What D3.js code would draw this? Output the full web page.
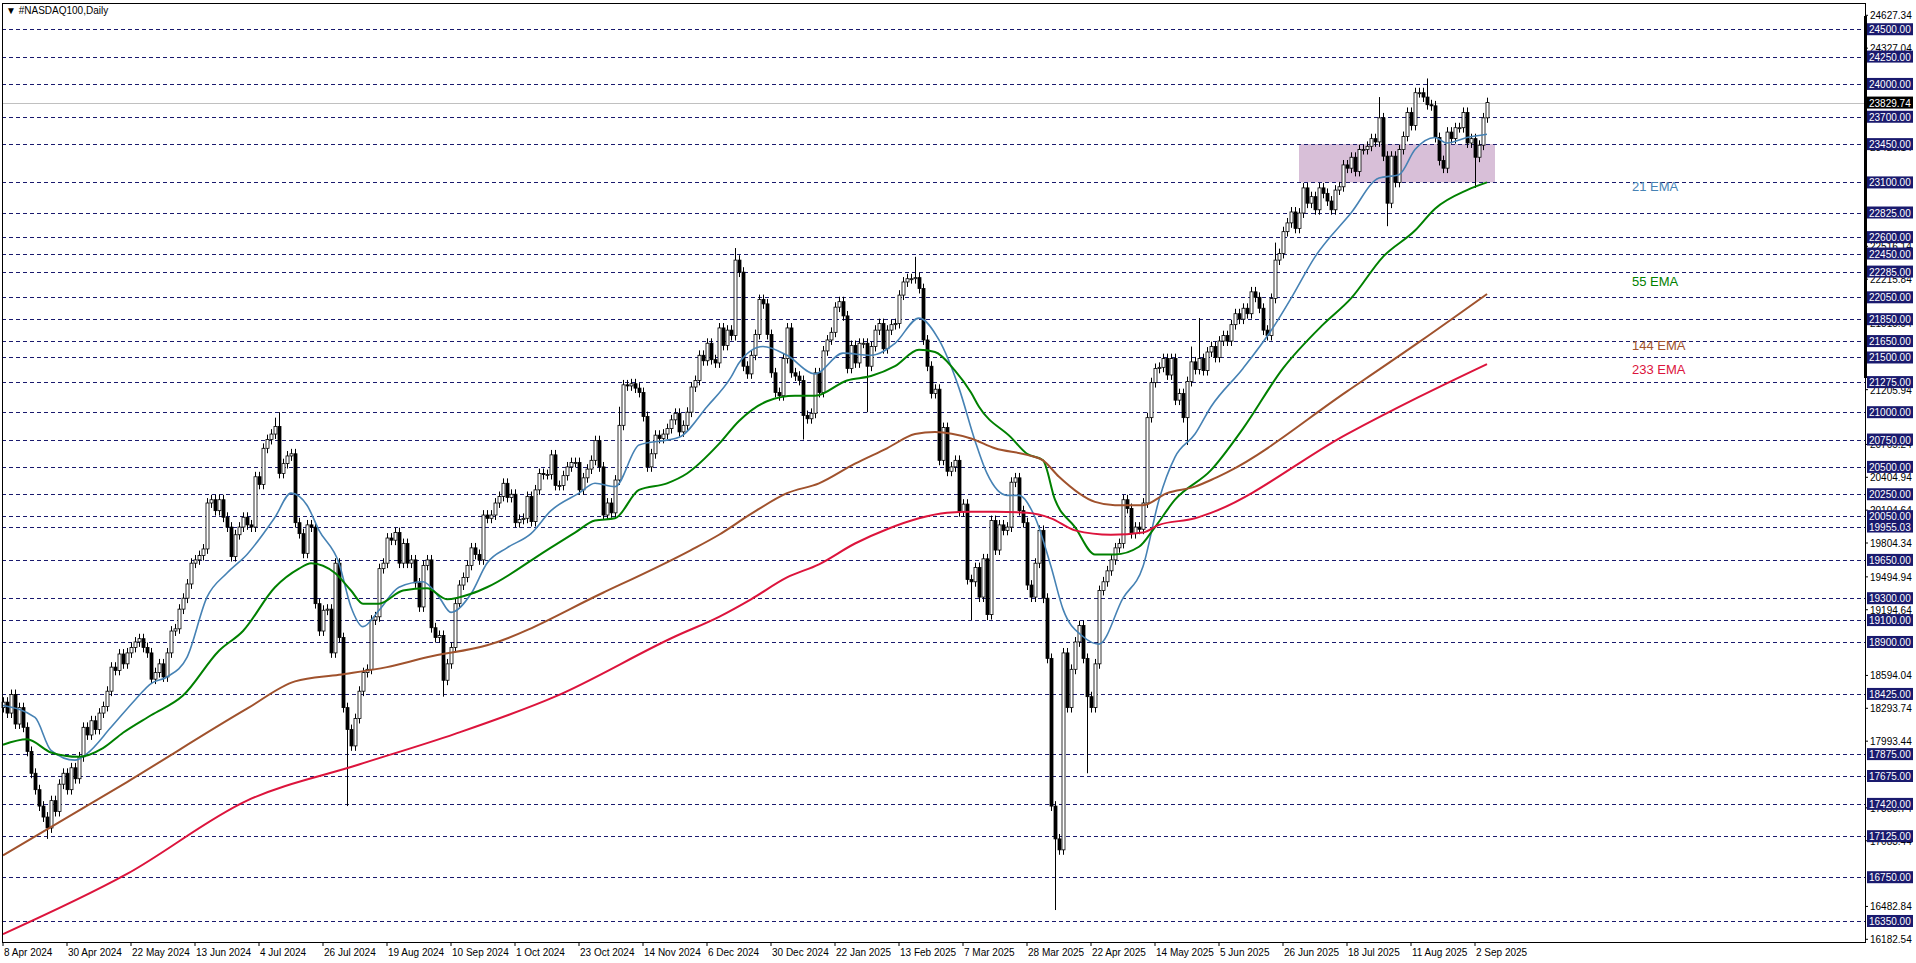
<!DOCTYPE html>
<html><head><meta charset="utf-8">
<script src="https://cdn.jsdelivr.net/npm/d3@7"></script>
<style>body{margin:0;background:#fff;overflow:hidden}svg{display:block}text{font-family:"Liberation Sans",Arial,sans-serif}</style>
</head><body>
<svg id="c" width="1916" height="963"></svg>
<script>
const firstOpen = 18300;
const closes = [
18350,18250,18420,18150,18300,18120,17900,17700,17550,17400,
17300,17200,17450,17350,17600,17700,17550,17750,17650,17850,
18120,18050,18180,18100,18250,18310,18450,18670,18640,18790,
18700,18800,18850,18900,18930,18850,18800,18560,18620,18700,
18580,18800,19000,19020,19200,19300,19430,19620,19650,19690,
19750,20170,20200,20100,20200,20040,19950,19680,19880,19950,
20040,19970,19950,20410,20340,20670,20750,20800,20870,20440,
20530,20600,20620,19990,19890,19710,19970,19950,19250,19000,
19190,19200,18800,19620,18940,18300,18100,17950,18200,18450,
18620,18650,19100,19130,19570,19620,19850,19830,19900,19620,
19800,19620,19650,19440,19220,19600,19650,19030,18940,18960,
18550,18700,18850,19250,19420,19490,19600,19760,19700,19650,
20060,20030,20060,20170,20230,20350,20220,20250,19990,20020,
20030,20230,20000,20290,20440,20430,20430,20610,20330,20330,
20420,20500,20540,20540,20290,20400,20480,20560,20740,20500,
20060,20170,20080,20380,20880,21250,21240,21260,21220,21180,
20960,20500,20620,20790,20760,20800,20850,20930,20990,20820,
20880,21000,21230,21290,21520,21470,21630,21480,21450,21770,
21610,21750,21700,22390,22280,21420,21350,21520,21710,22030,
21990,21710,21360,21180,21150,21490,21770,21360,21330,21290,
20970,20940,20990,21360,21180,21560,21660,21730,21960,22010,
21880,21400,21610,21450,21630,21630,21420,21600,21750,21810,
21580,21750,21800,21810,22070,22190,22220,22220,22230,22130,
21660,21420,21170,21210,20560,20860,20460,20500,20560,20090,
20160,19470,19450,19580,19310,19660,19150,20010,19740,19970,
19920,19950,20360,20400,20100,19990,19420,19310,19620,19920,
19300,18750,17400,17100,17000,18800,18300,18650,18900,19050,
18750,18400,18300,18700,19370,19450,19550,19650,19760,19800,
20200,20120,19890,19950,19930,20170,20950,21270,21400,21410,
21490,21340,21490,21110,21170,20950,21280,21460,21390,21490,
21380,21550,21600,21500,21650,21700,21650,21800,21900,21850,
21950,21900,22100,22050,21950,21750,21700,22040,22390,22450,
22650,22730,22830,22680,22820,23050,22910,22970,22850,23050,
23000,22930,22850,23030,23060,23260,23230,23330,23200,23400,
23400,23430,23500,23470,23690,23340,22910,23340,23100,23400,
23520,23740,23620,23920,23920,23880,23810,23800,23510,23300,
23230,23560,23500,23600,23600,23740,23460,23500,23330,23440,
23690,23829.74];
const highMarks = [[69,21000],[68,20950],[183,22500],[228,22420],[356,24050],[299,21860],[318,22550],[344,23880],[154,21050],[297,21600]];
const lowMarks = [[11,17100],[86,17400],[110,18400],[242,19100],[263,16450],[271,17700],[246,19100],[346,22700],[368,23050],[296,20700],[200,20750],[216,21000]];
const ema21 = [[0,18320],[8,18210],[12,17910],[18,17820],[21,17880],[27,18120],[33,18370],[37,18520],[41,18580],[46,18760],[51,19310],[56,19530],[61,19700],[68,20040],[72,20260],[76,20150],[79,19920],[84,19620],[87,19220],[90,19040],[94,19190],[99,19400],[105,19450],[109,19310],[112,19170],[117,19340],[121,19620],[126,19760],[132,19890],[137,20100],[144,20260],[148,20350],[153,20320],[159,20700],[169,20770],[176,21050],[182,21320],[184,21450],[190,21600],[196,21520],[203,21350],[210,21540],[217,21520],[223,21630],[229,21860],[234,21660],[239,21220],[243,20740],[246,20440],[251,20240],[254,20240],[258,20040],[262,19590],[265,19200],[270,18950],[274,18880],[280,19300],[285,19590],[289,20200],[293,20590],[298,20800],[302,21050],[310,21400],[318,21800],[322,22040],[328,22420],[337,22820],[344,23140],[349,23170],[353,23400],[358,23510],[361,23460],[366,23510],[371,23540]];
const ema55 = [[0,17960],[6,18010],[12,17890],[19,17850],[25,17930],[30,18070],[37,18230],[45,18410],[54,18820],[60,19000],[68,19400],[74,19570],[77,19620],[83,19530],[87,19370],[90,19250],[94,19250],[100,19370],[106,19390],[111,19290],[117,19340],[121,19400],[136,19740],[143,19900],[148,20010],[153,20030],[159,20290],[166,20350],[171,20440],[179,20710],[184,20920],[191,21100],[198,21150],[203,21150],[211,21290],[217,21330],[223,21420],[229,21570],[233,21550],[238,21380],[242,21180],[244,21050],[252,20770],[256,20620],[260,20560],[263,20200],[268,19950],[273,19700],[278,19700],[284,19770],[288,19950],[293,20200],[302,20470],[310,20850],[320,21400],[330,21800],[337,22040],[345,22420],[353,22660],[358,22860],[366,23030],[371,23100]];
const ema144 = [[0,16950],[31,17620],[61,18290],[73,18540],[84,18600],[96,18670],[106,18760],[121,18870],[150,19350],[172,19740],[179,19880],[187,20070],[196,20260],[204,20350],[213,20530],[221,20670],[228,20800],[233,20820],[242,20760],[248,20670],[256,20610],[260,20560],[264,20410],[273,20180],[278,20150],[285,20150],[291,20260],[298,20320],[302,20380],[306,20450],[336,21190],[354,21640],[371,22080]];
const ema233 = [[0,16230],[31,16780],[61,17450],[89,17780],[113,18060],[138,18400],[168,18950],[179,19130],[187,19290],[196,19490],[204,19610],[213,19800],[221,19930],[229,20030],[236,20080],[242,20090],[248,20090],[256,20080],[262,20030],[268,19920],[277,19880],[285,19900],[289,19970],[298,20030],[302,20080],[336,20800],[354,21140],[371,21440]];
const levels = [24500,24250,24000,23700,23450,23100,22825,22600,22450,22285,22050,21850,21650,21500,21275,21000,20750,20500,20250,20050,19955.03,19650,19300,19100,18900,18425,17875,17675,17420,17125,16750,16350];
const tickLabels = [24627.34,24327.04,23426.14,22516.14,22215.84,21815.54,21515.24,21205.94,20705.24,20404.94,20104.64,19804.34,19494.94,19194.64,18594.04,18293.74,17993.44,17383.74,17083.44,16482.84,16182.54];
const dateLabels = ["8 Apr 2024","30 Apr 2024","22 May 2024","13 Jun 2024","4 Jul 2024","26 Jul 2024","19 Aug 2024","10 Sep 2024","1 Oct 2024","23 Oct 2024","14 Nov 2024","6 Dec 2024","30 Dec 2024","22 Jan 2025","13 Feb 2025","7 Mar 2025","28 Mar 2025","22 Apr 2025","14 May 2025","5 Jun 2025","26 Jun 2025","18 Jul 2025","11 Aug 2025","2 Sep 2025"];
const dateIdx = [0,16,32,48,64,80,96,112,128,144,160,176,192,208,224,240,256,272,288,304,320,336,352,368];
const zoneBox = {i0:324, i1:373, lo:23100, hi:23450};
const lastPrice = 23829.74;
const emaLabels = [["21 EMA","#4682b4",ema21],["55 EMA","#008000",ema55],["144 EMA","#a0522d",ema144],["233 EMA","#dc143c",ema233]];

const svg = d3.select("#c");
const L=2,R=1865,T=3,B=942;
const x = d3.scaleLinear().domain([0,371]).range([3,1487]);
const y = d3.scaleLinear().domain([16182.54,24627.34]).range([939.3,15.3]);

svg.append("rect").attr("x",x(zoneBox.i0)).attr("width",x(zoneBox.i1)-x(zoneBox.i0))
  .attr("y",y(zoneBox.hi)).attr("height",y(zoneBox.lo)-y(zoneBox.hi)).attr("fill","#d8bfd8");

svg.append("g").selectAll("line").data(levels).join("line")
  .attr("x1",L).attr("x2",R).attr("y1",d=>Math.round(y(d))+0.5).attr("y2",d=>Math.round(y(d))+0.5)
  .attr("stroke","#1a1a6e").attr("stroke-dasharray","4,3").attr("stroke-width",1);
svg.append("line").attr("x1",L).attr("x2",R).attr("y1",Math.round(y(lastPrice))+0.5).attr("y2",Math.round(y(lastPrice))+0.5).attr("stroke","#c0c0c0");

const hm = new Map(highMarks), lm = new Map(lowMarks);
const bars = closes.map((c,i)=>{const o = i? closes[i-1]:firstOpen;
  const hi = hm.has(i)?hm.get(i):Math.max(o,c)+45, lo = lm.has(i)?lm.get(i):Math.min(o,c)-45;
  return {i,o,c,hi,lo};});
const g = svg.append("g");
g.selectAll("line").data(bars).join("line")
  .attr("x1",d=>Math.round(x(d.i))+0.5).attr("x2",d=>Math.round(x(d.i))+0.5)
  .attr("y1",d=>y(d.hi)).attr("y2",d=>y(d.lo)).attr("stroke","#000");
g.selectAll("rect").data(bars).join("rect")
  .attr("x",d=>Math.round(x(d.i))-1).attr("width",3)
  .attr("y",d=>y(Math.max(d.o,d.c))).attr("height",d=>Math.max(1,Math.abs(y(d.o)-y(d.c))))
  .attr("fill",d=>d.c>=d.o?"#fff":"#000").attr("stroke","#000").attr("stroke-width",0.8);

const line = d3.line().x(d=>x(d[0])).y(d=>y(d[1])).curve(d3.curveMonotoneX);
emaLabels.forEach(([name,col,data],k)=>{
  svg.append("path").attr("d",line(data)).attr("fill","none").attr("stroke",col).attr("stroke-width",k==0?1.6:2);
});
const lblY=[186,281,345,369];
emaLabels.forEach(([name,col],k)=>svg.append("text").attr("x",1632).attr("y",lblY[k]+5).attr("fill",col).attr("font-size",13).text(name));

svg.append("rect").attr("x",L+0.5).attr("y",T+0.5).attr("width",R-L).attr("height",B-T).attr("fill","none").attr("stroke","#000");
svg.append("line").attr("x1",R+0.5).attr("x2",R+0.5).attr("y1",16).attr("y2",378).attr("stroke","#000").attr("stroke-width",3);

const ax = svg.append("g").attr("font-size",10);
ax.selectAll("line").data(tickLabels).join("line").attr("x1",R).attr("x2",R+3).attr("y1",d=>y(d)).attr("y2",d=>y(d)).attr("stroke","#000");
ax.selectAll("text").data(tickLabels).join("text").attr("x",1870).attr("y",d=>y(d)+4).text(d=>d.toFixed(2));
const lv = svg.append("g").attr("font-size",10);
lv.selectAll("rect").data(levels).join("rect").attr("x",1867).attr("y",d=>y(d)-6).attr("width",46).attr("height",12).attr("fill","#1a1a6e");
lv.selectAll("text").data(levels).join("text").attr("x",1869).attr("y",d=>y(d)+4).attr("fill","#fff").text(d=>d.toFixed(2));
svg.append("rect").attr("x",1867).attr("y",y(lastPrice)-6).attr("width",46).attr("height",12).attr("fill","#000");
svg.append("text").attr("x",1869).attr("y",y(lastPrice)+4).attr("fill","#fff").attr("font-size",10).text(lastPrice.toFixed(2));

const bx = svg.append("g").attr("font-size",10);
bx.selectAll("line").data(dateIdx).join("line").attr("x1",d=>x(d)).attr("x2",d=>x(d)).attr("y1",B).attr("y2",B+4).attr("stroke","#000");
bx.selectAll("text").data(dateLabels).join("text").attr("x",(d,k)=>x(dateIdx[k])+1).attr("y",956).text(d=>d);

svg.append("text").attr("x",6).attr("y",14).attr("font-size",10).text("▼ #NASDAQ100,Daily");
</script></body></html>
